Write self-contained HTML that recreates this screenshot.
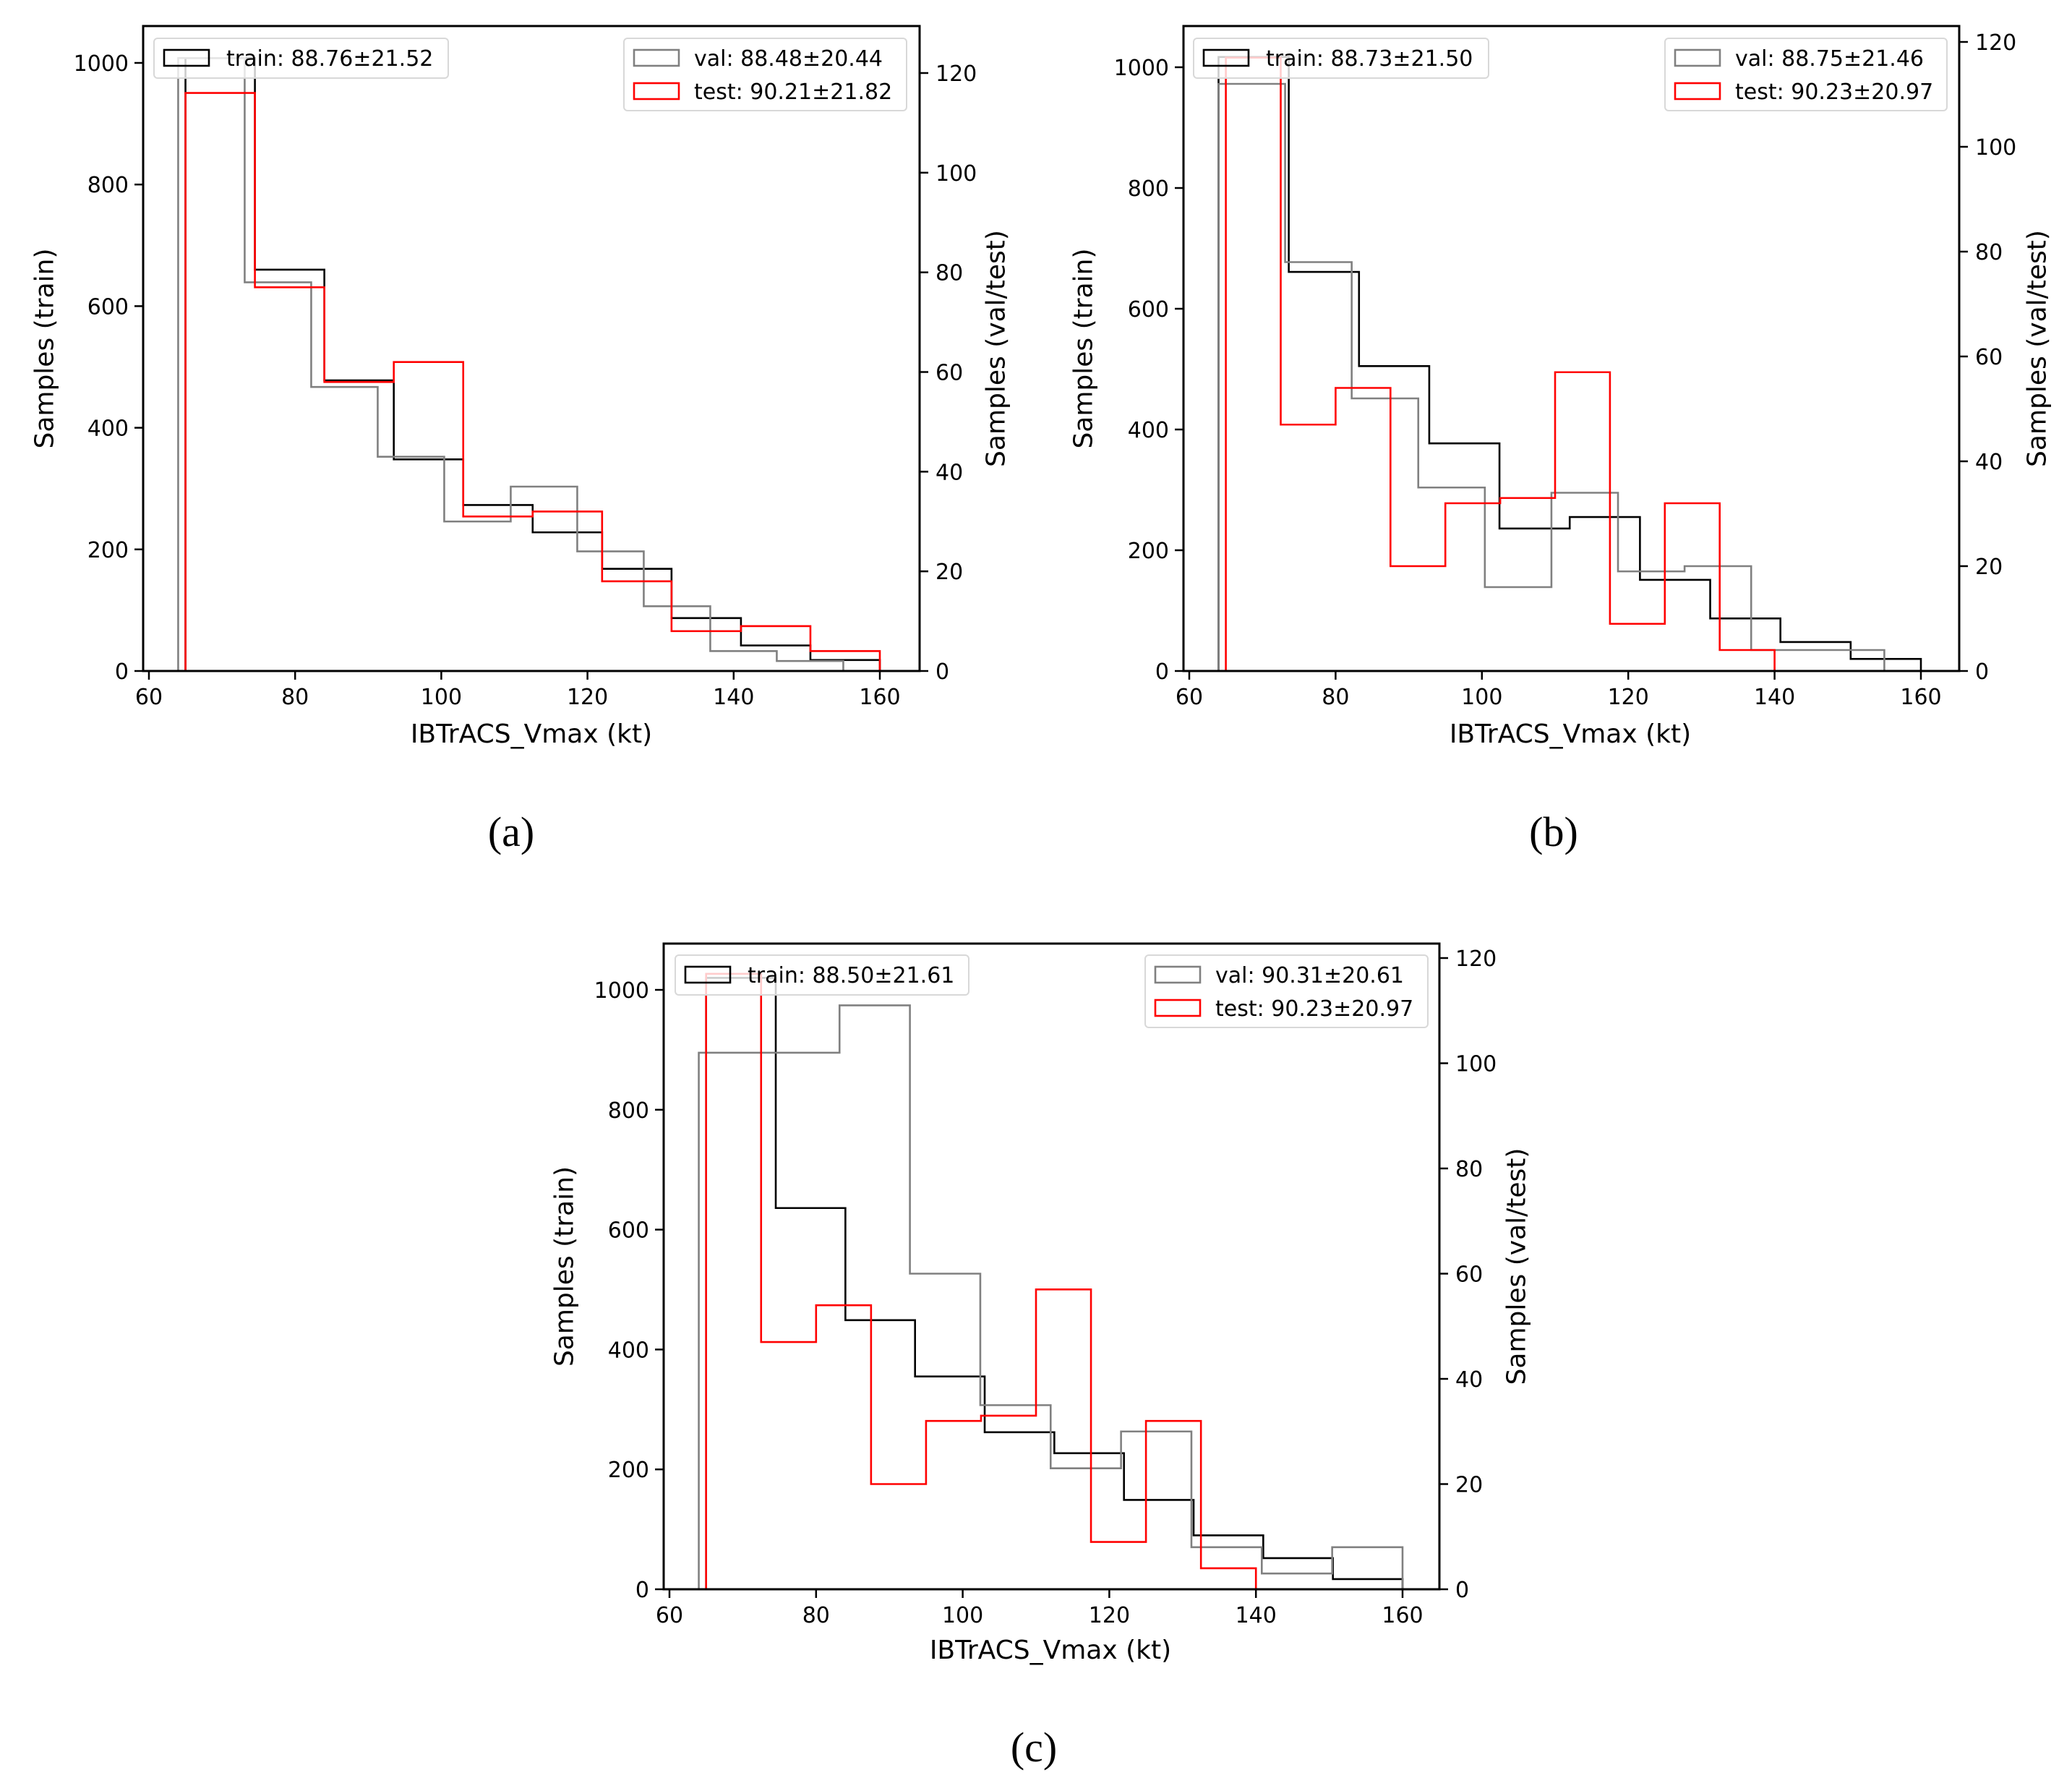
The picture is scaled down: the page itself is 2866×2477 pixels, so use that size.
<!DOCTYPE html>
<html><head><meta charset="utf-8"><style>
html,body{margin:0;padding:0;background:#fff;}
svg{display:block;}
text{font-family:"DejaVu Sans","Liberation Sans",sans-serif;fill:#000;}
.cap{font-family:"Liberation Serif",serif;}
</style></head><body>
<svg id="fig" width="2866" height="2477" viewBox="0 0 2866 2477" xmlns="http://www.w3.org/2000/svg"></svg>
<script>
// ---- data ----
const xTicks = [60, 80, 100, 120, 140, 160];
const leftTicks = [0, 200, 400, 600, 800, 1000];
const rightTicks = [0, 20, 40, 60, 80, 100, 120];

const trainEdgesA = [65, 74.5, 84, 93.5, 103, 112.5, 122, 131.5, 141, 150.5, 160];
const trainCountsA = [1008, 660, 478, 348, 273, 228, 168, 87, 42, 18];
const valEdgesA = [64, 73.1, 82.2, 91.3, 100.4, 109.5, 118.6, 127.7, 136.8, 145.9, 155];
const valCountsA = [123, 78, 57, 43, 30, 37, 24, 13, 4, 2];
const testEdgesA = [65, 74.5, 84, 93.5, 103, 112.5, 122, 131.5, 141, 150.5, 160];
const testCountsA = [116, 77, 58, 62, 31, 32, 18, 8, 9, 4];

const trainEdgesB = [64, 73.6, 83.2, 92.8, 102.4, 112, 121.6, 131.2, 140.8, 150.4, 160];
const trainCountsB = [1017, 661, 505, 377, 236, 255, 151, 87, 48, 20];
const valEdgesB = [64, 73.1, 82.2, 91.3, 100.4, 109.5, 118.6, 127.7, 136.8, 145.9, 155];
const valCountsB = [112, 78, 52, 35, 16, 34, 19, 20, 4, 4];
const testEdgesB = [65, 72.5, 80, 87.5, 95, 102.5, 110, 117.5, 125, 132.5, 140];
const testCountsB = [117, 47, 54, 20, 32, 33, 57, 9, 32, 4];

const trainEdgesC = [65, 74.5, 84, 93.5, 103, 112.5, 122, 131.5, 141, 150.5, 160];
const trainCountsC = [1020, 636, 449, 355, 262, 227, 149, 90, 52, 17];
const valEdgesC = [64, 73.6, 83.2, 92.8, 102.4, 112, 121.6, 131.2, 140.8, 150.4, 160];
const valCountsC = [102, 102, 111, 60, 35, 23, 30, 8, 3, 8];
const testEdgesC = [65, 72.5, 80, 87.5, 95, 102.5, 110, 117.5, 125, 132.5, 140];
const testCountsC = [117, 47, 54, 20, 32, 33, 57, 9, 32, 4];

const trainLabels = ["train: 88.76±21.52", "train: 88.73±21.50", "train: 88.50±21.61"];
const valLabels = ["val: 88.48±20.44", "val: 88.75±21.46", "val: 90.31±20.61"];
const testLabels = ["test: 90.21±21.82", "test: 90.23±20.97", "test: 90.23±20.97"];
const captions = ["(a)", "(b)", "(c)"];

// ---- geometry ----
const geo = [
 {L:198,R:1272,T:36,B:928,x60:206,x160:1217,yL1000:87,yR120:101,
  lg1:[213,53,407,55], lg2:[863,53,391,100], ylx:62, yrx:1378, xlx:735, xly:1015, capx:707, capy:1152},
 {L:1637,R:2710,T:36,B:928,x60:1645,x160:2657,yL1000:93,yR120:58,
  lg1:[1651,53,408,55], lg2:[2303,53,390,100], ylx:1499, yrx:2818, xlx:2172, xly:1015, capx:2149, capy:1152},
 {L:918,R:1991,T:1305,B:2198,x60:926,x160:1940,yL1000:1369,yR120:1325,
  lg1:[934,1321,406,55], lg2:[1584,1321,391,100], ylx:781, yrx:2098, xlx:1453, xly:2282, capx:1430, capy:2418}
];
const series = [
 [[trainEdgesA,trainCountsA],[valEdgesA,valCountsA],[testEdgesA,testCountsA]],
 [[trainEdgesB,trainCountsB],[valEdgesB,valCountsB],[testEdgesB,testCountsB]],
 [[trainEdgesC,trainCountsC],[valEdgesC,valCountsC],[testEdgesC,testCountsC]]
];
const colors = ["#000000", "#808080", "#ff0000"];
const names = ["train", "val", "test"];
const NS = "http://www.w3.org/2000/svg";
const fig = document.getElementById("fig");

function mk(tag, attrs, parent, txt){
  const e = document.createElementNS(NS, tag);
  for (const k in attrs) e.setAttribute(k, attrs[k]);
  if (txt !== undefined) e.textContent = txt;
  parent.appendChild(e);
  return e;
}

geo.forEach((g, pi) => {
  const grp = mk("g", {}, fig);
  
  
  const sx = v => g.x60 + (v - 60) * (g.x160 - g.x60) / 100;
  const syL = v => g.B - v * (g.B - g.yL1000) / 1000;
  const syR = v => g.B - v * (g.B - g.yR120) / 120;

  series[pi].forEach((s, si) => {
    const edges = s[0], counts = s[1];
    const sy = si === 0 ? syL : syR;
    let d = "M" + sx(edges[0]) + "," + g.B;
    for (let i = 0; i < counts.length; i++) {
      d += " L" + sx(edges[i]) + "," + sy(counts[i]) + " L" + sx(edges[i+1]) + "," + sy(counts[i]);
    }
    d += " L" + sx(edges[edges.length-1]) + "," + g.B;
    const p = mk("path", {d:d, fill:"none", stroke:colors[si], "stroke-width":2.6, "stroke-linejoin":"miter"}, grp);
    
    
  });

  const fr = mk("rect", {x:g.L, y:g.T, width:g.R-g.L, height:g.B-g.T, fill:"none", stroke:"#000", "stroke-width":3}, grp);
  
  

  xTicks.forEach(t => {
    mk("line", {x1:sx(t), x2:sx(t), y1:g.B, y2:g.B+12, stroke:"#000", "stroke-width":2.5}, grp);
    const tx = mk("text", {x:sx(t), y:g.B+46, "font-size":30, "text-anchor":"middle"}, grp, String(t));
    
    
  });
  leftTicks.forEach(t => {
    mk("line", {x1:g.L-12, x2:g.L, y1:syL(t), y2:syL(t), stroke:"#000", "stroke-width":2.5}, grp);
    const tx = mk("text", {x:g.L-20, y:syL(t)+11, "font-size":30, "text-anchor":"end"}, grp, String(t));
    
    
  });
  rightTicks.forEach(t => {
    mk("line", {x1:g.R, x2:g.R+12, y1:syR(t), y2:syR(t), stroke:"#000", "stroke-width":2.5}, grp);
    const tx = mk("text", {x:g.R+22, y:syR(t)+11, "font-size":30, "text-anchor":"start"}, grp, String(t));
    
    
  });

  const cy = (g.T + g.B) / 2;
  const yl = mk("text", {x:g.ylx, y:cy, "font-size":36, "text-anchor":"middle", "dominant-baseline":"central", transform:"rotate(-90 " + g.ylx + " " + cy + ")"}, grp, "Samples (train)");
  
  
  const yr = mk("text", {x:g.yrx, y:cy, "font-size":36, "text-anchor":"middle", "dominant-baseline":"central", transform:"rotate(-90 " + g.yrx + " " + cy + ")"}, grp, "Samples (val/test)");
  
  
  const xl = mk("text", {x:g.xlx, y:g.xly+12, "font-size":36, "text-anchor":"middle"}, grp, "IBTrACS_Vmax (kt)");
  
  
  const cp = mk("text", {x:g.capx, y:g.capy+18, "font-size":58, "text-anchor":"middle", "class":"cap"}, grp, captions[pi]);
  
  

  const l1 = g.lg1;
  const lb1 = mk("rect", {x:l1[0], y:l1[1], width:l1[2], height:l1[3], rx:5, fill:"#fff", "fill-opacity":0.8, stroke:"#d8d8d8", "stroke-width":2}, grp);
  
  
  mk("rect", {x:l1[0]+14, y:l1[1]+16, width:62, height:22, fill:"none", stroke:colors[0], "stroke-width":2.6}, grp);
  const t1 = mk("text", {x:l1[0]+100, y:l1[1]+38, "font-size":30}, grp, trainLabels[pi]);
  
  

  const l2 = g.lg2;
  const lb2 = mk("rect", {x:l2[0], y:l2[1], width:l2[2], height:l2[3], rx:5, fill:"#fff", "fill-opacity":0.8, stroke:"#d8d8d8", "stroke-width":2}, grp);
  
  
  mk("rect", {x:l2[0]+14, y:l2[1]+16, width:62, height:22, fill:"none", stroke:colors[1], "stroke-width":2.6}, grp);
  const t2 = mk("text", {x:l2[0]+97, y:l2[1]+38, "font-size":30}, grp, valLabels[pi]);
  
  
  mk("rect", {x:l2[0]+14, y:l2[1]+62, width:62, height:22, fill:"none", stroke:colors[2], "stroke-width":2.6}, grp);
  const t3 = mk("text", {x:l2[0]+97, y:l2[1]+84, "font-size":30}, grp, testLabels[pi]);
  
  
});
</script>
</body></html>
